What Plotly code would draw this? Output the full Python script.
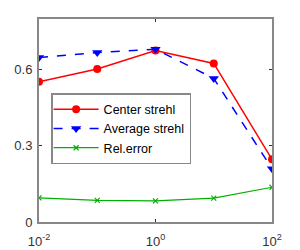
import plotly.graph_objects as go

x_vals = [0.01, 0.1, 1, 10, 100]
center_strehl = [0.553, 0.603, 0.676, 0.625, 0.247]
average_strehl = [0.648, 0.668, 0.681, 0.566, 0.210]
rel_error = [0.095, 0.085, 0.083, 0.094, 0.137]

x_tickvals = [0.01, 1, 100]
x_ticktext = ["10<sup>-2</sup>", "10<sup>0</sup>", "10<sup>2</sup>"]
y_tickvals = [0, 0.3, 0.6]
y_ticktext = ["0", "0.3", "0.6"]

fig = go.Figure()
fig.add_trace(go.Scatter(x=x_vals, y=center_strehl, name="Center strehl", mode="lines+markers",
                         line=dict(color="#ff0000", width=1.5),
                         marker=dict(symbol="circle", size=8, color="#ff0000")))
fig.add_trace(go.Scatter(x=x_vals, y=average_strehl, name="Average strehl", mode="lines+markers",
                         line=dict(color="#0000ff", width=1.5, dash="dash"),
                         marker=dict(symbol="triangle-down", size=9, color="#0000ff")))
fig.add_trace(go.Scatter(x=x_vals, y=rel_error, name="Rel.error", mode="lines+markers",
                         line=dict(color="#00b000", width=1.2),
                         marker=dict(symbol="x-thin", size=5, color="#00b000",
                                     line=dict(color="#00b000", width=1.2))))

axis_common = dict(showline=True, linecolor="#888888", linewidth=2, mirror="ticks",
                   ticks="inside", ticklen=3, tickcolor="#333333", showgrid=False,
                   zeroline=False, automargin=False,
                   tickfont=dict(family="Liberation Sans, Arial", size=13, color="#333333"))

fig.update_xaxes(type="log", range=[-2, 2], tickvals=x_tickvals, ticktext=x_ticktext,
                 ticklabelstandoff=6, **axis_common)
fig.update_yaxes(range=[0, 0.8], tickvals=y_tickvals, ticktext=y_ticktext,
                 ticklabelstandoff=2, **axis_common)

fig.update_layout(
    width=292, height=242,
    margin=dict(l=31, r=28, t=11, b=28),
    paper_bgcolor="white", plot_bgcolor="white",
    showlegend=True,
    legend=dict(x=0.052, y=0.635, xanchor="left", yanchor="top",
                bgcolor="white", bordercolor="#888888", borderwidth=1.5,
                font=dict(family="Liberation Sans, Arial", size=12.5, color="#000000"),
                tracegroupgap=0, itemwidth=45, indentation=-4),
    font=dict(family="Liberation Sans, Arial"),
)

fig.write_html("out.html")
